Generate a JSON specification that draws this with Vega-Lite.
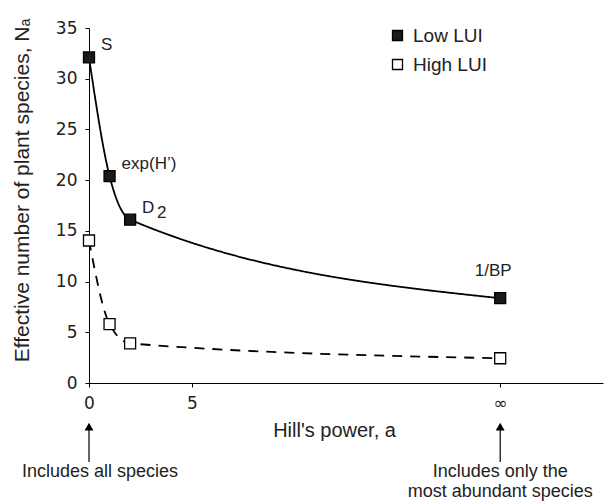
{
  "$schema": "https://vega.github.io/schema/vega-lite/v6.json",
  "width": 514,
  "height": 355,
  "autosize": "none",
  "padding": {"left": 89, "top": 28, "right": 5, "bottom": 121},
  "background": "white",
  "config": {"view": {"stroke": null}, "font": "Liberation Sans"},
  "datasets": {
    "pts": [
      {"a": 0, "N": 32.1, "series": "Low LUI"},
      {"a": 1, "N": 20.4, "series": "Low LUI"},
      {"a": 2, "N": 16.1, "series": "Low LUI"},
      {"a": 20, "N": 8.36, "series": "Low LUI"},
      {"a": 0, "N": 14.05, "series": "High LUI"},
      {"a": 1, "N": 5.8, "series": "High LUI"},
      {"a": 2, "N": 3.9, "series": "High LUI"},
      {"a": 20, "N": 2.44, "series": "High LUI"}
    ]
  },
  "resolve": {"legend": {"strokeDash": "independent", "fill": "independent"}},
  "layer": [
    {
      "data": {"name": "pts"},
      "mark": {"type": "line", "interpolate": "monotone", "color": "black", "strokeWidth": 1.8},
      "encoding": {
        "x": {
          "field": "a", "type": "quantitative",
          "scale": {"domain": [0, 25], "nice": false},
          "axis": {
            "values": [0, 5, 20],
            "labelExpr": "datum.value == 20 ? '∞' : datum.label",
            "labelFlush": false,
            "grid": false, "tickSize": 4, "labelPadding": 8,
            "labelFont": "DejaVu Sans", "labelFontSize": 17, "labelColor": "#222",
            "domainColor": "black", "tickColor": "black",
            "title": "Hill's power, a", "titleFontSize": 20, "titleFontWeight": "normal",
            "titleColor": "#222", "titleX": 245, "titleY": 47, "titleBaseline": "middle"
          }
        },
        "y": {
          "field": "N", "type": "quantitative",
          "scale": {"domain": [0, 35], "nice": false},
          "axis": {
            "values": [0, 5, 10, 15, 20, 25, 30, 35],
            "labelFlush": false,
            "grid": false, "tickSize": 4, "labelPadding": 8,
            "labelFont": "DejaVu Sans", "labelFontSize": 17, "labelColor": "#222",
            "domainColor": "black", "tickColor": "black",
            "title": "Effective number of plant species, Nₐ", "titleFontSize": 21,
            "titleFontWeight": "normal", "titleColor": "#222",
            "titleX": -67, "titleY": 162, "titleBaseline": "middle"
          }
        },
        "detail": {"field": "series", "type": "nominal"},
        "strokeDash": {
          "field": "series", "type": "nominal",
          "scale": {"domain": ["Low LUI", "High LUI"], "range": [[1, 0], [10, 8]]},
          "legend": null
        }
      }
    },
    {
      "data": {"name": "pts"},
      "mark": {"type": "point", "shape": "square", "filled": true, "size": 121, "stroke": "black", "strokeWidth": 1.3, "opacity": 1},
      "encoding": {
        "x": {"field": "a", "type": "quantitative"},
        "y": {"field": "N", "type": "quantitative"},
        "fill": {
          "field": "series", "type": "nominal",
          "scale": {"domain": ["Low LUI", "High LUI"], "range": ["#1a1a1a", "white"]},
          "legend": {
            "title": null, "orient": "none", "legendX": 299, "legendY": -2,
            "symbolType": "square", "symbolSize": 100, "symbolStrokeColor": "black",
            "symbolStrokeWidth": 1.3, "symbolOpacity": 1, "labelFontSize": 19, "labelColor": "#222",
            "labelOffset": 6, "rowPadding": 9, "padding": 0
          }
        }
      }
    },
    {
      "data": {"values": [
        {"a": 0, "N": 32.1, "label": "S"},
        {"a": 1, "N": 20.4, "label": "exp(H’)"},
        {"a": 2, "N": 16.1, "label": "D"}
      ]},
      "mark": {"type": "text", "align": "left", "baseline": "middle", "dx": 12, "dy": -12, "fontSize": 17, "color": "#222"},
      "encoding": {
        "x": {"field": "a", "type": "quantitative"},
        "y": {"field": "N", "type": "quantitative"},
        "text": {"field": "label", "type": "nominal"}
      }
    },
    {
      "data": {"values": [{"a": 2, "N": 16.1, "label": "2"}]},
      "mark": {"type": "text", "align": "left", "baseline": "middle", "dx": 27, "dy": -7, "fontSize": 17, "color": "#222"},
      "encoding": {
        "x": {"field": "a", "type": "quantitative"},
        "y": {"field": "N", "type": "quantitative"},
        "text": {"field": "label", "type": "nominal"}
      }
    },
    {
      "data": {"values": [{"a": 20, "N": 8.36, "label": "1/BP"}]},
      "mark": {"type": "text", "align": "center", "baseline": "middle", "dx": -7, "dy": -27, "fontSize": 17, "color": "#222"},
      "encoding": {
        "x": {"field": "a", "type": "quantitative"},
        "y": {"field": "N", "type": "quantitative"},
        "text": {"field": "label", "type": "nominal"}
      }
    },
    {
      "data": {"values": [{"a": 0}, {"a": 20}]},
      "mark": {"type": "rule", "color": "black", "strokeWidth": 1.2},
      "encoding": {
        "x": {"field": "a", "type": "quantitative"},
        "y": {"datum": -4.3},
        "y2": {"datum": -7.8}
      }
    },
    {
      "data": {"values": [{"a": 0}, {"a": 20}]},
      "mark": {"type": "point", "shape": "triangle-up", "filled": true, "size": 80, "color": "black", "opacity": 1},
      "encoding": {
        "x": {"field": "a", "type": "quantitative"},
        "y": {"datum": -4.3}
      }
    },
    {
      "data": {"values": [{"a": 0, "t": "Includes all species"}]},
      "mark": {"type": "text", "align": "center", "baseline": "top", "dx": 11, "fontSize": 18, "color": "#222"},
      "encoding": {
        "x": {"field": "a", "type": "quantitative"},
        "y": {"datum": -7.9},
        "text": {"field": "t", "type": "nominal"}
      }
    },
    {
      "data": {"values": [{"a": 20, "t": "Includes only the\nmost abundant species"}]},
      "mark": {"type": "text", "align": "center", "baseline": "top", "lineBreak": "\n", "lineHeight": 20, "fontSize": 18, "color": "#222"},
      "encoding": {
        "x": {"field": "a", "type": "quantitative"},
        "y": {"datum": -7.9},
        "text": {"field": "t", "type": "nominal"}
      }
    }
  ]
}
